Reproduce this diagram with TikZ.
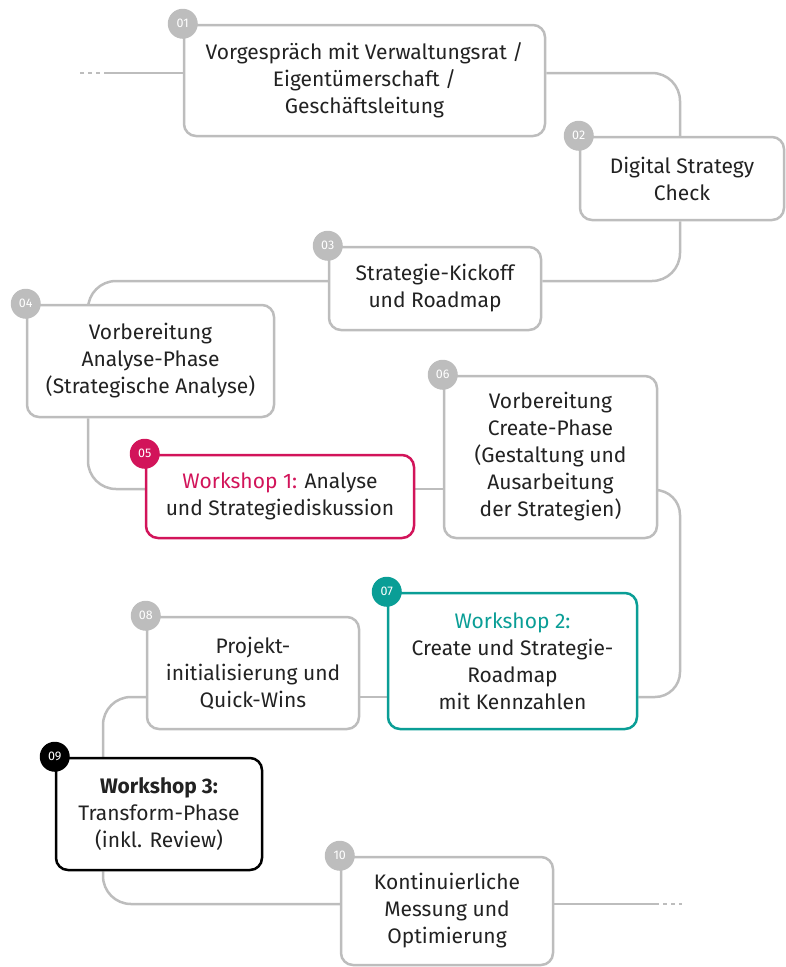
\documentclass[tikz,border=0pt]{standalone}
\usepackage{fontspec}
\setmainfont{Fira Sans}
\usetikzlibrary{backgrounds}
\definecolor{lgray}{HTML}{BDBDBD}
\definecolor{txt}{HTML}{222222}
\definecolor{wsred}{HTML}{D2145A}
\definecolor{wsteal}{HTML}{0A9E96}
\tikzset{
  box/.style={draw=lgray, line width=2.5pt, rounded corners=12pt, fill=white, inner sep=0pt,
    align=center, text=txt, font=\fontsize{21}{27}\selectfont},
  badge/.style={circle, fill=lgray, minimum size=30pt, inner sep=0pt, text=white,
    font=\fontsize{12.5}{12.5}\selectfont},
  conn/.style={draw=lgray, line width=2.5pt, rounded corners=28pt},
  dashconn/.style={draw=lgray, line width=2.5pt, dash pattern=on 4pt off 4pt}
}
\begin{document}
\begin{tikzpicture}[x=1pt,y=-1pt]
\useasboundingbox (0,0) rectangle (785,967);

\node[box, minimum width=361pt, minimum height=111pt] (n1) at (364.5,80.5)
  {Vorgespräch mit Verwaltungsrat /\\Eigentümerschaft /\\Geschäftsleitung};
\node[box, minimum width=204pt, minimum height=83pt] (n2) at (682,178.5)
  {Digital Strategy\\Check};
\node[box, minimum width=212pt, minimum height=83pt] (n3) at (435,288.5)
  {Strategie-Kickoff\\und Roadmap};
\node[box, minimum width=247pt, minimum height=112pt] (n4) at (150.5,361)
  {Vorbereitung\\Analyse-Phase\\(Strategische Analyse)};
\node[box, draw=wsred, minimum width=268pt, minimum height=83pt] (n5) at (280,496.5)
  {{\color{wsred}Workshop 1:} Analyse\\und Strategiediskussion};
\node[box, minimum width=213pt, minimum height=162pt] (n6) at (550.5,457)
  {Vorbereitung\\Create-Phase\\(Gestaltung und\\Ausarbeitung\\der Strategien)};
\node[box, draw=wsteal, minimum width=249pt, minimum height=136pt] (n7) at (512.5,661)
  {{\color{wsteal}Workshop 2:}\\Create und Strategie-\\Roadmap\\mit Kennzahlen};
\node[box, minimum width=212pt, minimum height=112pt] (n8) at (253,673)
  {Projekt-\\initialisierung und\\Quick-Wins};
\node[box, draw=black, minimum width=206pt, minimum height=112pt] (n9) at (159,814)
  {{\bfseries Workshop 3:}\\Transform-Phase\\(inkl. Review)};
\node[box, minimum width=212pt, minimum height=108pt] (n10) at (447,911)
  {Kontinuierliche\\Messung und\\Optimierung};

\node[badge] (b1) at (n1.north west) {01};
\node[badge] (b2) at (n2.north west) {02};
\node[badge] (b3) at (n3.north west) {03};
\node[badge] (b4) at (n4.north west) {04};
\node[badge, fill=wsred] (b5) at (n5.north west) {05};
\node[badge] (b6) at (n6.north west) {06};
\node[badge, fill=wsteal] (b7) at (n7.north west) {07};
\node[badge] (b8) at (n8.north west) {08};
\node[badge, fill=black] (b9) at (n9.north west) {09};
\node[badge] (b10) at (n10.north west) {10};

\coordinate (start) at (80,73);
\coordinate (startsolid) at (107,73);
\coordinate (endsolid) at (655,904);
\coordinate (end) at (682,904);

\begin{pgfonlayer}{background}
\draw[dashconn] (start) -- (startsolid);
\draw[conn] (startsolid) -- (n1.west |- start);
\draw[conn] (n1.east |- 0,73) -| (n2.north -| 680,0);
\draw[conn] (n2.south -| 680,0) |- (n3.east |- 0,281);
\draw[conn] (n3.west |- 0,281) -| (n4.north -| 88,0);
\draw[conn] (n4.south -| 88,0) |- (n5.west |- 0,489);
\draw[conn] (n5.east |- 0,489) -- (n6.west |- 0,489);
\draw[conn, rounded corners=25pt] (n6.east |- 0,490) -- (680,490) -- (680,697) -- (n7.east |- 0,697);
\draw[conn] (n7.west |- 0,697) -- (n8.east |- 0,697);
\draw[conn] (n8.west |- 0,697) -| (n9.north -| 103,0);
\draw[conn] (n9.south -| 103,0) |- (n10.west |- 0,904);
\draw[conn] (n10.east |- 0,904) -- (endsolid);
\draw[dashconn] (endsolid) -- (end);
\end{pgfonlayer}
\end{tikzpicture}
\end{document}
